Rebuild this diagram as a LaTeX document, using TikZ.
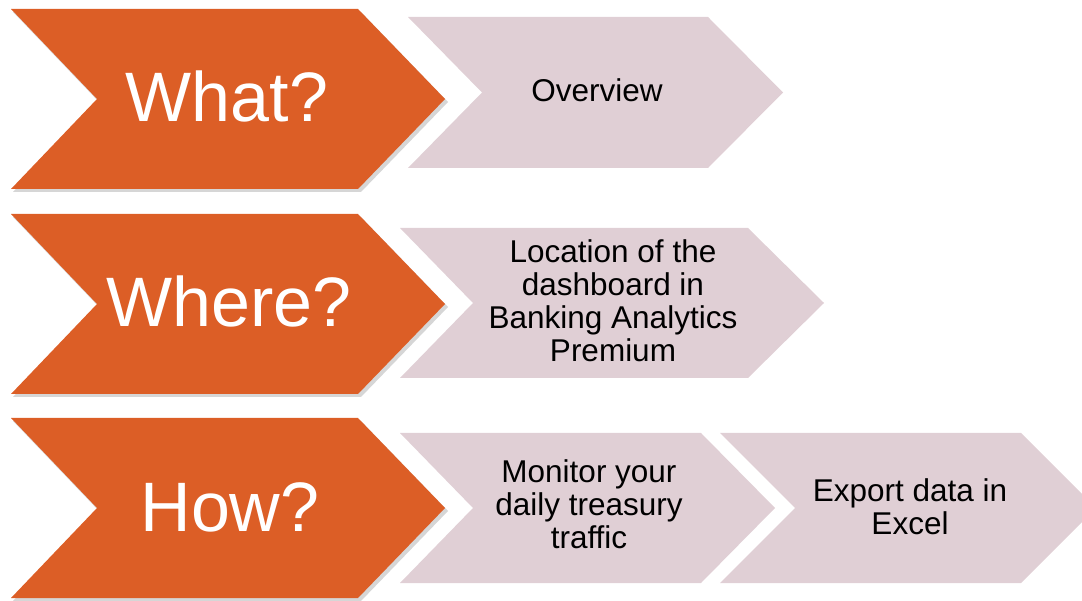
\documentclass[tikz,border=0pt]{standalone}
\usepackage{fontspec}
\setmainfont{Liberation Sans}
\definecolor{chevorange}{RGB}{220,94,38}
\definecolor{chevpink}{RGB}{224,207,213}
\begin{document}
\begin{tikzpicture}[x=1pt,y=-1pt,
  bigtext/.style={text=white,font=\fontsize{70}{80}\selectfont,anchor=base,inner sep=0pt},
  smalltext/.style={text=black,font=\fontsize{31.5}{33}\selectfont,align=center,anchor=base,inner sep=0pt},
  orangefill/.style={fill=chevorange,draw=none},
  pinkfill/.style={fill=chevpink,draw=none},
  shadowfill/.style={fill=black,opacity=0.16,draw=none}]
\useasboundingbox (0,0) rectangle (1082,601);
\clip (0,0) rectangle (1082,601);
% orange chevrons with soft shadow
\foreach \t in {9,214,418}{
  \fill[shadowfill] (13,\t+3) -- (361,\t+3) -- (448,\t+93) -- (361,\t+183) -- (13,\t+183) -- (99,\t+93) -- cycle;
  \fill[orangefill] (11,\t) -- (358,\t) -- (445,\t+90) -- (358,\t+180) -- (11,\t+180) -- (97,\t+90) -- cycle;
}
% pink chevrons
\fill[pinkfill] (408,17) -- (708,17) -- (783,92.5) -- (708,168) -- (408,168) -- (482,92.5) -- cycle;
\fill[pinkfill] (400,228) -- (748,228) -- (824,303) -- (748,378) -- (400,378) -- (473,303) -- cycle;
\fill[pinkfill] (400,433) -- (701,433) -- (775,508) -- (701,583) -- (400,583) -- (473,508) -- cycle;
\fill[pinkfill] (720,433) -- (1021,433) -- (1096,508) -- (1021,583) -- (720,583) -- (795,508) -- cycle;
% texts (anchor base = baseline of last line)
\node[bigtext] (what) at (227,122) {What?};
\node[bigtext] (where) at (229,327) {Where?};
\node[bigtext] (how) at (230,531) {How?};
\node[smalltext] (overview) at (597,102) {Overview};
\node[smalltext] (location) at (613,362) {Location of the\\dashboard in\\Banking Analytics\\Premium};
\node[smalltext] (monitor) at (589,548) {Monitor your\\daily treasury\\traffic};
\node[smalltext] (export) at (910,534) {Export data in\\Excel};
\end{tikzpicture}
\end{document}
